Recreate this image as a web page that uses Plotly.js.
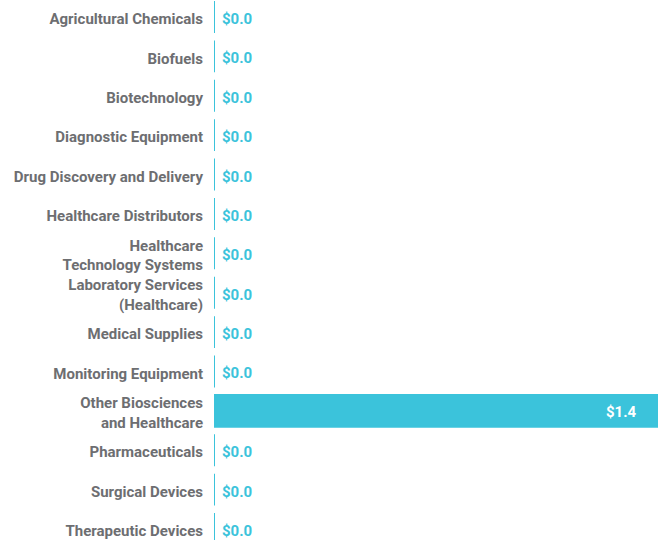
<!DOCTYPE html>
<html><head><meta charset="utf-8">
<script src="https://cdn.plot.ly/plotly-3.0.1.min.js"></script>
<style>html,body{margin:0;padding:0;background:#fff}#chart{width:661px;height:540px}</style>
</head><body><div id="chart"></div>
<script>
const categories = [
  "Agricultural Chemicals",
  "Biofuels",
  "Biotechnology",
  "Diagnostic Equipment",
  "Drug Discovery and Delivery",
  "Healthcare Distributors",
  "Healthcare<br>Technology Systems",
  "Laboratory Services<br>(Healthcare)",
  "Medical Supplies",
  "Monitoring Equipment",
  "Other Biosciences<br>and Healthcare",
  "Pharmaceuticals",
  "Surgical Devices",
  "Therapeutic Devices"
];
const values = [0, 0, 0, 0, 0, 0, 0, 0, 0, 0, 1.4, 0, 0, 0];
const valueLabels = values.map(v => "$" + v.toFixed(1));

const barColor = "#3BC3DB";
const labelGray = "#6D6E71";
const fontFamily = "Roboto, 'Noto Sans', sans-serif";

const annotations = values.map((v, i) => {
  const inside = v > 0.5;
  return {
    x: v, y: categories[i], xref: "x", yref: "y",
    text: valueLabels[i], showarrow: false,
    xanchor: inside ? "right" : "left",
    xshift: inside ? -19 : 6,
    yshift: inside ? -1 : -2,
    font: {family: fontFamily, size: 15, weight: 700, color: inside ? "#FFFFFF" : barColor}
  };
});

const trace = {
  type: "bar",
  orientation: "h",
  x: values,
  y: categories,
  marker: {color: barColor, line: {color: barColor, width: 2}},
  hoverinfo: "skip"
};

const layout = {
  width: 661, height: 540,
  margin: {l: 214, r: 3, t: 0, b: 0, pad: 0},
  paper_bgcolor: "#fff", plot_bgcolor: "#fff",
  bargap: 0.19,
  showlegend: false,
  xaxis: {range: [0, 1.4], showgrid: false, zeroline: false, showline: false, showticklabels: false, fixedrange: true},
  yaxis: {
    type: "category",
    range: [13.279, -0.432],
    showgrid: false, zeroline: false, showline: false, ticks: "",
    ticklabelstandoff: 10,
    ticklabelshift: -2,
    tickfont: {family: fontFamily, size: 15, weight: 700, color: labelGray},
    fixedrange: true
  },
  annotations: annotations
};

Plotly.newPlot("chart", [trace], layout, {displayModeBar: false, staticPlot: true});
</script>
</body></html>
